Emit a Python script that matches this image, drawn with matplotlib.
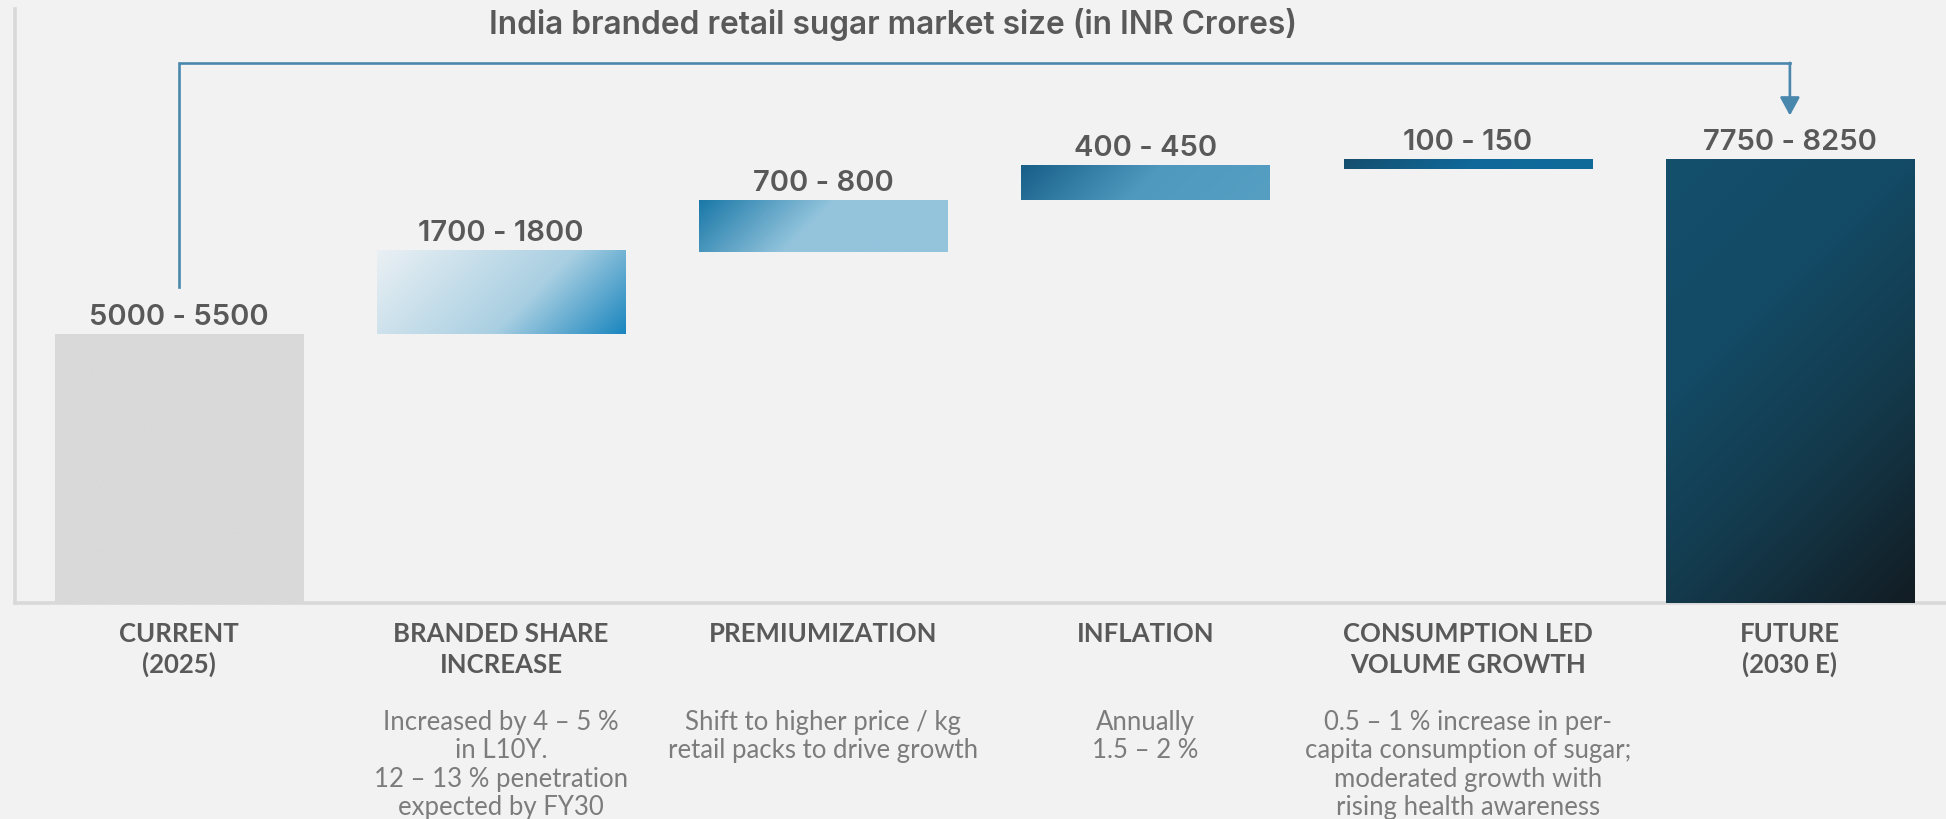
import numpy as np
import matplotlib
matplotlib.use("Agg")
import matplotlib.pyplot as plt
import matplotlib.transforms as mtransforms
from matplotlib.colors import LinearSegmentedColormap

# data
categories = [["CURRENT", "(2025)"], ["BRANDED SHARE", "INCREASE"], ["PREMIUMIZATION"],
              ["INFLATION"], ["CONSUMPTION LED", "VOLUME GROWTH"], ["FUTURE", "(2030 E)"]]
range_labels = ["5000 - 5500", "1700 - 1800", "700 - 800", "400 - 450", "100 - 150", "7750 - 8250"]
bar_low = [0, 5000, 6530, 7490, 8070, 0]
bar_high = [5000, 6560, 7490, 8140, 8250, 8250]
notes = [[],
         ["Increased by 4 – 5 %", "in L10Y.", "12 – 13 % penetration", "expected by FY30"],
         ["Shift to higher price / kg", "retail packs to drive growth"],
         ["Annually", "1.5 – 2 %"],
         ["0.5 – 1 % increase in per-", "capita consumption of sugar;",
          "moderated growth with", "rising health awareness"],
         []]

grad_stops = [
    [(0, "#d9d9d9"), (1, "#d9d9d9")],
    [(0, "#eaf0f4"), (0.6, "#a9cfe2"), (1, "#1a86be")],
    [(0, "#1a78a8"), (0.45, "#93c4dc"), (1, "#93c4dc")],
    [(0, "#175f88"), (0.5, "#4f99bf"), (1, "#569fc3")],
    [(0, "#164e6d"), (0.5, "#0f6899"), (1, "#0f6b9b")],
    [(0, "#134f6c"), (0.35, "#134a65"), (0.65, "#143a4c"), (1, "#121c23")],
]

BG = "#f2f2f2"
DARK = "#595959"
NOTE = "#7c7c7c"
LINE = "#4a87ad"

W, H = 1946, 820
fig = plt.figure(figsize=(W / 100, H / 100), dpi=100, facecolor=BG)
ax = fig.add_axes([15 / W, (H - 604) / H, 1 - 15 / W, 594.5 / H])
ax.set_facecolor(BG)

x = np.arange(len(categories))
XLIM = (-0.5087, 5.4845)
YLIM = (0, 11050)
ax.set_xlim(*XLIM)
ax.set_ylim(*YLIM)

heights = np.array(bar_high) - np.array(bar_low)
bars = ax.bar(x, heights, bottom=bar_low, width=0.77, color=[s[0][1] for s in grad_stops],
              linewidth=0, zorder=2)

# gradient fill clipped to each bar
for i, b in enumerate(bars):
    (px0, py0), (px1, py1) = ax.transData.transform([(b.get_x(), b.get_y()),
                                                     (b.get_x() + b.get_width(), b.get_y() + b.get_height())])
    wpx, hpx = abs(px1 - px0), abs(py1 - py0)
    cols, rows = max(int(wpx), 2), max(int(hpx), 2)
    u = np.linspace(0, 1, cols)[None, :]
    v = np.linspace(0, 1, rows)[:, None]
    t = (u * wpx + v * hpx) / (wpx + hpx)
    cmap = LinearSegmentedColormap.from_list("g%d" % i, grad_stops[i])
    im = ax.imshow(cmap(t), extent=(b.get_x(), b.get_x() + b.get_width(), b.get_y(), b.get_y() + b.get_height()),
                   origin="upper", aspect="auto", interpolation="bilinear", zorder=3)
    im.set_clip_path(b)

ax.set_xlim(*XLIM)
ax.set_ylim(*YLIM)

for s in ["top", "right"]:
    ax.spines[s].set_visible(False)
for s in ["left", "bottom"]:
    ax.spines[s].set_color("#d9d9d9")
    ax.spines[s].set_linewidth(2.6)
    ax.spines[s].set_zorder(1)
ax.set_xticks([])
ax.set_yticks([])

num_font = ["Inter", "DejaVu Sans"]
for i in range(len(categories)):
    ax.annotate(range_labels[i], xy=(x[i], bar_high[i]), xytext=(0, 7), textcoords="offset points",
                ha="center", va="baseline", fontsize=21, fontweight="semibold", color=DARK,
                family=num_font)

tr = mtransforms.blended_transform_factory(ax.transData, fig.transFigure)
for i in range(len(categories)):
    for k, line in enumerate(categories[i]):
        ax.text(x[i], 1 - (642 + 31 * k) / H, line, transform=tr, ha="center", va="baseline",
                fontsize=18.5, fontweight="bold", color=DARK, family=["Lato", "DejaVu Sans"])
    for k, line in enumerate(notes[i]):
        ax.text(x[i], 1 - (730 + 28.5 * k) / H, line, transform=tr, ha="center", va="baseline",
                fontsize=18.5, fontweight="normal", color=NOTE, family=["Lato", "DejaVu Sans"])

fig.text(893 / W, 1 - 34 / H, "India branded retail sugar market size (in INR Crores)",
         ha="center", va="baseline", fontsize=22.8, fontweight="semibold", color=DARK,
         family=num_font)

# bracket from current to future
tb = mtransforms.blended_transform_factory(ax.transData, ax.transAxes)
ax.plot([x[0], x[0], x[-1]], [0.532, 0.9085, 0.9085], color=LINE, lw=1.9, transform=tb,
        solid_joinstyle="miter", clip_on=False, zorder=4)
ax.annotate("", xy=(x[-1], 0.82), xycoords=tb, xytext=(x[-1], 0.9085), textcoords=tb,
            arrowprops=dict(arrowstyle="-|>,head_length=0.55,head_width=0.3", color=LINE, lw=1.9,
                            shrinkA=0, shrinkB=0, mutation_scale=20))

fig.savefig("out.png", dpi=100, facecolor=BG)
